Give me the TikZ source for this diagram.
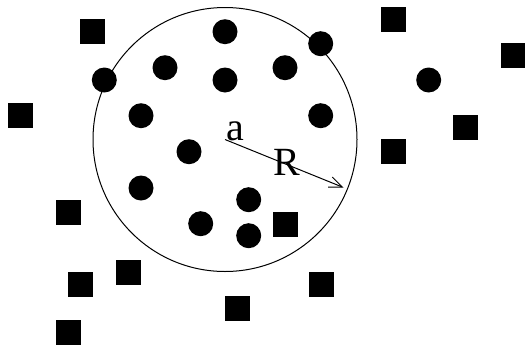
\documentclass[tikz,border=0pt]{standalone}
\usepackage{fontspec}
\setmainfont{Liberation Serif}
\usetikzlibrary{arrows.meta}

\begin{document}
\begin{tikzpicture}[x=1pt,y=-1pt,line width=1pt,
  dot/.style={circle,fill=black,inner sep=0pt,minimum size=25pt},
  blk/.style={rectangle,fill=black,inner sep=0pt,minimum size=25pt},
  lbl/.style={font=\fontsize{40}{48}\selectfont,inner sep=0pt,anchor=base}]
  \useasboundingbox (0,0) rectangle (525,346);

  % ===== REGION =====
  \coordinate (ctr) at (225,139.5);
  \coordinate (tip) at (343.5,187.5);
  \draw (ctr) circle[radius=132pt];
  \draw[-{Straight Barb[length=13pt,width=11pt]}] (ctr) -- (tip);
  \node[lbl] (a) at (235,140) {a};
  \node[lbl] (R) at (286.5,175) {R};

  % ===== DOTS =====
  \foreach \x/\y [count=\i] in {225/31.7,320.7/43.7,104.3/80,165/67.7,225/80,
      285/67.7,428.7/80,141/115.7,320.7/115.7,189/151.7,141/188,
      248.7/199.7,200.7/223.7,248.7/235.7}
    \node[dot] (d\i) at (\x,\y) {};

  % ===== SQUARES =====
  \foreach \x/\y [count=\i] in {393/19,92.7/31.8,513/55.7,20.7/115.3,
      465.3/127.7,393/151.7,68.7/212,285/224,128.7/272,80.7/284,
      321/284,237/308,68.7/332}
    \node[blk] (s\i) at (\x,\y) {};

\end{tikzpicture}
\end{document}
